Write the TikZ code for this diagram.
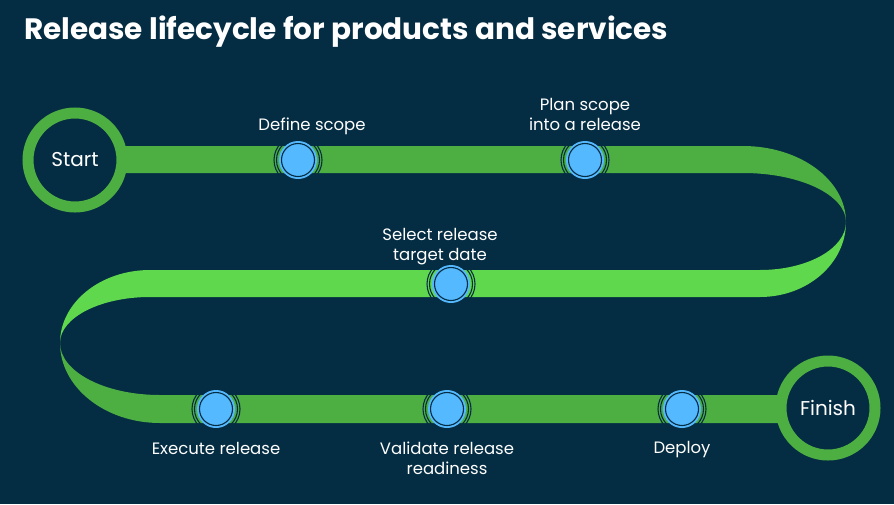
\documentclass[tikz,border=0pt]{standalone}
\usepackage{fontspec}
\setmainfont{Poppins}
\definecolor{bg}{RGB}{4,44,66}
\definecolor{gdark}{RGB}{77,174,66}
\definecolor{gbright}{RGB}{96,216,78}
\definecolor{mblue}{RGB}{85,185,255}
\tikzset{
  endcircle/.style={circle,draw=gdark,line width=11pt,fill=bg,minimum size=94pt,inner sep=0pt,text=white,font=\fontsize{20}{24}\selectfont},
  milestone/.style={circle,minimum size=38pt,inner sep=0pt,fill=mblue},
  msring/.style={draw=bg,line width=1.1pt},
  lbl/.style={text=white,align=center,anchor=base,font=\fontsize{16.5}{19.5}\selectfont,inner sep=0pt}
}
\begin{document}
\begin{tikzpicture}[x=1pt,y=1pt]
\useasboundingbox (0,0) rectangle (894,-504);
\fill[bg] (0,0) rectangle (894,-504);
% title
\node[anchor=base west,text=white,font=\fontsize{29.5}{34}\selectfont\bfseries,inner sep=0pt] (title) at (24,-39.5) {Release lifecycle for products and services};
% band pieces
\fill[gdark] (75,-146) -- (743,-146) arc[start angle=90,end angle=0,x radius=103,y radius=76]
  arc[start angle=0,end angle=90,x radius=103,y radius=49] -- (75,-173) -- cycle;
\fill[gbright] (846,-222) arc[start angle=0,end angle=-90,x radius=86,y radius=75]
  -- (150,-297) arc[start angle=90,end angle=180,x radius=90,y radius=46]
  arc[start angle=180,end angle=90,x radius=90,y radius=73]
  -- (760,-270) arc[start angle=-90,end angle=0,x radius=86,y radius=48] -- cycle;
\fill[gdark] (60,-343) arc[start angle=180,end angle=270,x radius=100,y radius=80]
  -- (828,-423) -- (828,-395) -- (160,-395)
  arc[start angle=270,end angle=180,x radius=100,y radius=52] -- cycle;
% start / finish
\node[endcircle] (start) at (75,-160) {Start};
\node[endcircle] (finish) at (828,-408) {Finish};
% milestones
\node[milestone] (m1) at (298,-160) {};
\node[milestone] (m2) at (585,-160) {};
\node[milestone] (m3) at (451,-284) {};
\node[milestone] (m4) at (216,-409) {};
\node[milestone] (m5) at (447,-409) {};
\node[milestone] (m6) at (682,-409) {};
\foreach \m in {m1,m2,m3,m4,m5,m6}{
  \draw[msring] (\m.center) circle (21.5pt) (\m.center) circle (24pt) (\m.center) circle (16.5pt);
}
% labels
\node[lbl] (l1) at (312,-130) {Define scope};
\node[lbl] (l2) at (585,-130) {Plan scope\\into a release};
\node[lbl] (l3) at (440,-260) {Select release\\target date};
\node[lbl] (l4) at (216,-454) {Execute release};
\node[lbl] (l5) at (447,-474) {Validate release\\readiness};
\node[lbl] (l6) at (682,-453) {Deploy};
\end{tikzpicture}
\end{document}
